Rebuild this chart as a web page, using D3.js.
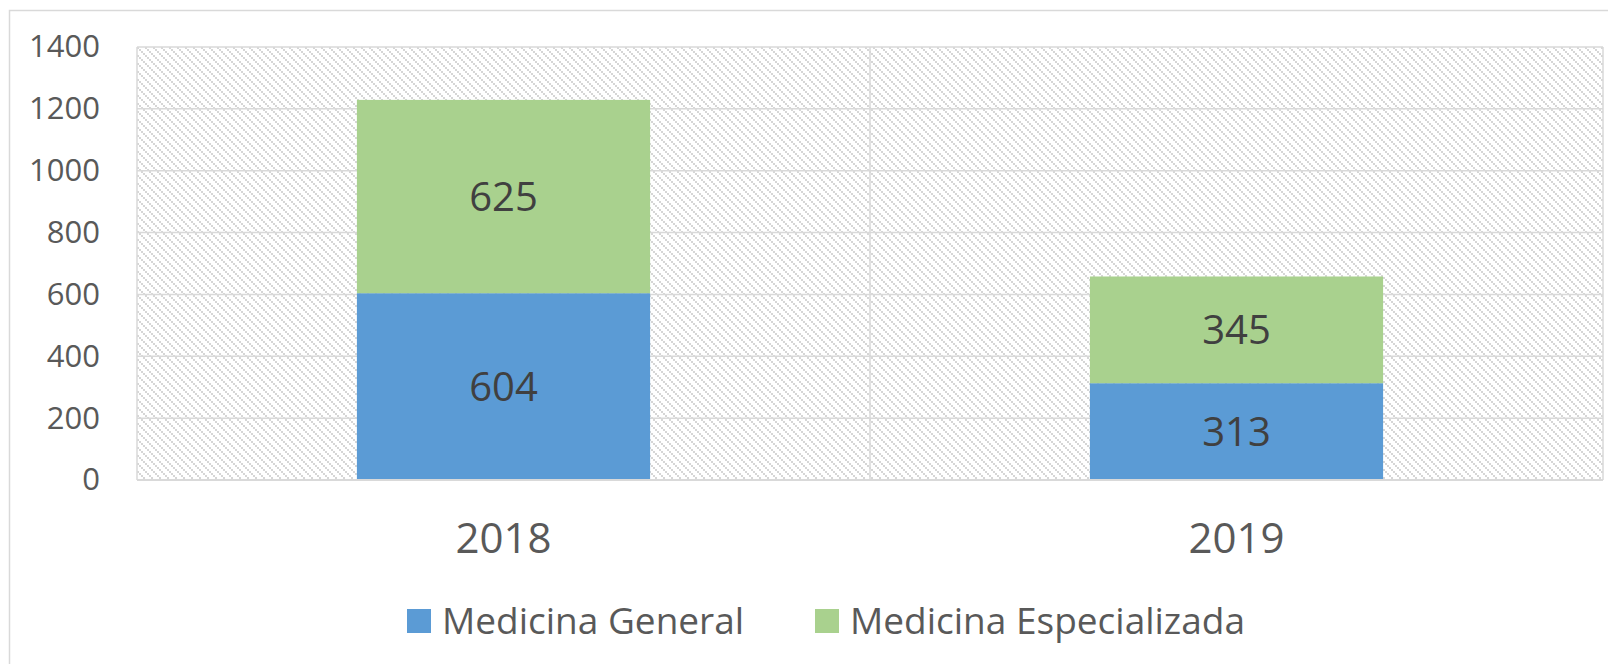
<!DOCTYPE html>
<html>
<head>
<meta charset="utf-8">
<script src="https://cdn.jsdelivr.net/npm/d3@7"></script>
<style>
  body { margin: 0; background: #fff; }
  text { font-family: "Open Sans", sans-serif; }
</style>
</head>
<body>
<div class="chart"></div>
<script>
var categories = ["2018", "2019"];
var seriesNames = ["Medicina General", "Medicina Especializada"];
var general = [604, 313];
var especializada = [625, 345];
var yTicks = [0, 200, 400, 600, 800, 1000, 1200, 1400];

var colors = ["#5b9bd5", "#a9d18e"];

var W = 1608, H = 664;
var margin = {top: 47, right: 5, bottom: 184, left: 137},
    width = W - margin.left - margin.right,
    height = H - margin.top - margin.bottom;

var svg = d3.select(".chart").append("svg")
    .attr("width", W)
    .attr("height", H);

// hatch pattern for the plot area
var defs = svg.append("defs");
var pat = defs.append("pattern")
    .attr("id", "hatch")
    .attr("patternUnits", "userSpaceOnUse")
    .attr("width", 8)
    .attr("height", 8);
[0, 2, 4, 6].forEach(function (k) {
  pat.append("rect").attr("x", k).attr("y", k)
    .attr("width", 2).attr("height", 2).attr("fill", "#d6d6d6");
});

// outer chart border
svg.append("rect")
    .attr("x", 9.5).attr("y", 10.5)
    .attr("width", W + 20).attr("height", H + 20)
    .attr("fill", "none")
    .attr("stroke", "#d9d9d9")
    .attr("stroke-width", 1.5);

var g = svg.append("g")
    .attr("transform", "translate(" + margin.left + "," + margin.top + ")");

var x = d3.scaleBand().domain(categories).range([0, width]).paddingInner(0).paddingOuter(0);
var y = d3.scaleLinear().domain([0, 1400]).range([height, 0]);

g.append("rect")
    .attr("width", width).attr("height", height)
    .attr("fill", "url(#hatch)");

// horizontal gridlines
g.selectAll(".hgrid")
    .data(yTicks)
    .enter().append("line")
    .attr("class", "hgrid")
    .attr("x1", 0).attr("x2", width)
    .attr("y1", function (d) { return y(d); })
    .attr("y2", function (d) { return y(d); })
    .attr("stroke", "#d9d9d9")
    .attr("stroke-width", 1.5);

// vertical gridlines (category boundaries)
var bounds = [0, x.bandwidth(), width];
g.selectAll(".vgrid")
    .data(bounds)
    .enter().append("line")
    .attr("class", "vgrid")
    .attr("x1", function (d) { return d; })
    .attr("x2", function (d) { return d; })
    .attr("y1", 0).attr("y2", height)
    .attr("stroke", "#d9d9d9")
    .attr("stroke-width", 1.5);

// stacked bars
var rows = categories.map(function (c, i) {
  return {cat: c, general: general[i], especializada: especializada[i]};
});
var stack = d3.stack().keys(["general", "especializada"]);
var layers = stack(rows);

var barW = x.bandwidth() * 0.4;

layers.forEach(function (layer, li) {
  g.selectAll(".bar" + li)
    .data(layer)
    .enter().append("rect")
    .attr("x", function (d) { return x(d.data.cat) + (x.bandwidth() - barW) / 2; })
    .attr("width", barW)
    .attr("y", function (d) { return y(d[1]); })
    .attr("height", function (d) { return y(d[0]) - y(d[1]); })
    .attr("fill", colors[li]);

  g.selectAll(".lbl" + li)
    .data(layer)
    .enter().append("text")
    .attr("x", function (d) { return x(d.data.cat) + x.bandwidth() / 2; })
    .attr("y", function (d) { return y((d[0] + d[1]) / 2); })
    .attr("dy", "0.36em")
    .attr("text-anchor", "middle")
    .attr("fill", "#404040")
    .style("font-size", "40px")
    .text(function (d) { return d[1] - d[0]; });
});

// bottom axis line
g.append("line")
    .attr("x1", 0).attr("x2", width)
    .attr("y1", height).attr("y2", height)
    .attr("stroke", "#d9d9d9")
    .attr("stroke-width", 2);

// y axis labels
var yAxis = d3.axisLeft(y).tickValues(yTicks).tickFormat(d3.format("d"))
    .tickSize(0).tickPadding(37);
g.append("g")
    .attr("class", "y axis")
    .call(yAxis)
    .call(function (s) { s.select(".domain").remove(); })
    .selectAll("text")
    .attr("fill", "#595959")
    .style("font-size", "31px")
    .style("font-family", "'Open Sans', sans-serif");

// x axis labels
var xAxis = d3.axisBottom(x).tickSize(0).tickPadding(43);
g.append("g")
    .attr("class", "x axis")
    .attr("transform", "translate(0," + height + ")")
    .call(xAxis)
    .call(function (s) { s.select(".domain").remove(); })
    .selectAll("text")
    .attr("fill", "#595959")
    .style("font-size", "42px")
    .style("font-family", "'Open Sans', sans-serif");

// legend
var legendX = [407, 815];
var legend = svg.selectAll(".legend")
    .data(seriesNames)
    .enter().append("g")
    .attr("class", "legend")
    .attr("transform", function (d, i) { return "translate(" + legendX[i] + ",609)"; });

legend.append("rect")
    .attr("width", 24).attr("height", 24)
    .attr("fill", function (d, i) { return colors[i]; });

legend.append("text")
    .attr("x", 35)
    .attr("y", 12)
    .attr("dy", "0.36em")
    .attr("fill", "#595959")
    .style("font-size", "37px")
    .text(function (d) { return d; });
</script>
</body>
</html>
